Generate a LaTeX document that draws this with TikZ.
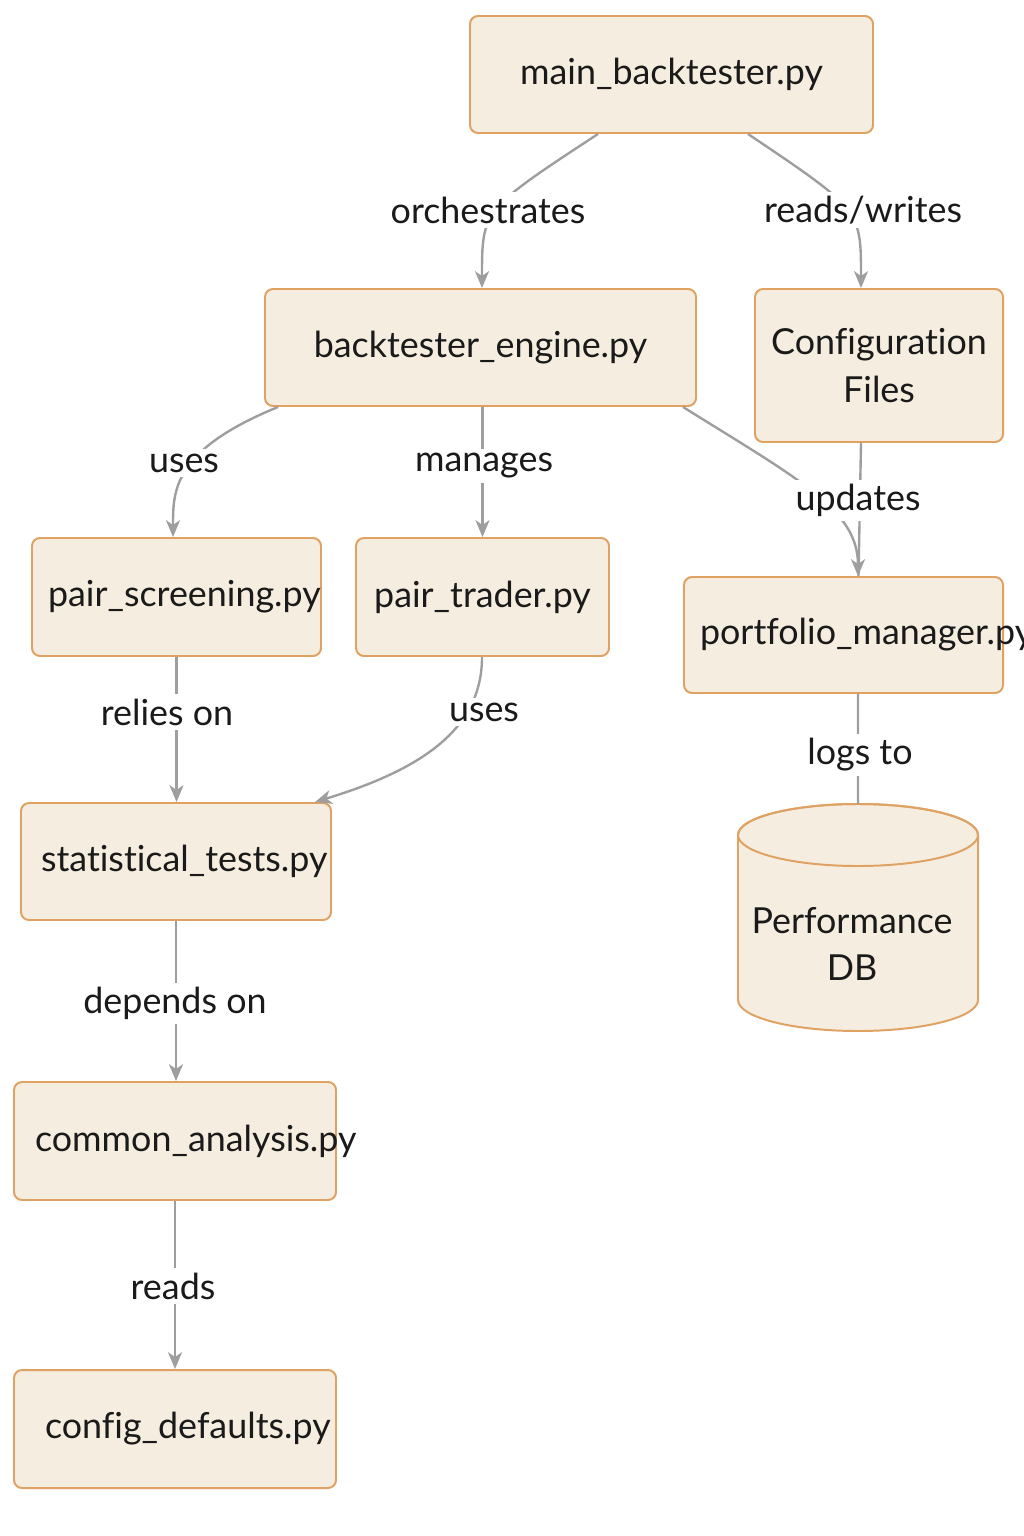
\documentclass[tikz,border=0pt]{standalone}
\usepackage{fontspec}
\setmainfont{Lato}[Ligatures=NoCommon]
\usetikzlibrary{calc,arrows.meta}
\newlength\px
\setlength\px{0.025cm}
\definecolor{boxfill}{HTML}{F5EDDF}
\definecolor{boxline}{HTML}{DFA262}
\definecolor{edgegray}{HTML}{9E9E9E}
\definecolor{txt}{HTML}{1A1A1A}
\tikzset{
  fnt/.style={font=\fontsize{25.5}{34}\selectfont, text=txt},
  box/.style={fnt, draw=boxline, fill=boxfill, line width=1.4pt, rounded corners=0.2cm,
              inner sep=0pt, align=center},
  lbl/.style={fnt, fill=white, inner sep=3pt},
  conn/.style={draw=edgegray, line width=1.7pt},
  arr/.style={conn, -{Stealth[length=12pt,width=10pt,inset=3.5pt]}},
}
\begin{document}
\begin{tikzpicture}[x=0.025cm, y=-0.025cm]
\useasboundingbox (0,0) rectangle (1024,1536);
\clip (0,0) rectangle (1024,1536);
% boxes
\node[box, minimum width=403\px, minimum height=117\px] (main) at (671.5,74.5) {main\_backtester.py};
\node[box, minimum width=431\px, minimum height=117\px] (engine) at (480.5,347.5) {backtester\_engine.py};
\node[box, minimum width=248\px, minimum height=153\px] (cfg) at (879,365.5) {Configuration\\Files};
\node[box, minimum width=289\px, minimum height=118\px] (ps) at (176.5,597) {\makebox[289\px][l]{\hspace{16\px}pair\_screening.py}};
\node[box, minimum width=253\px, minimum height=118\px] (pt) at (482.5,597) {pair\_trader.py};
\node[box, minimum width=319\px, minimum height=116\px] (pm) at (843.5,635) {\makebox[319\px][l]{\hspace{16\px}portfolio\_manager.py}};
\node[box, minimum width=310\px, minimum height=117\px] (st) at (176,861.5) {\makebox[310\px][l]{\hspace{20\px}statistical\_tests.py}};
\node[box, minimum width=322\px, minimum height=118\px] (cm) at (175,1141) {\makebox[322\px][l]{\hspace{21\px}common\_analysis.py}};
\node[box, minimum width=322\px, minimum height=118\px] (cd) at (175,1429) {\makebox[322\px][l]{\hspace{31\px}config\_defaults.py}};
% cylinder
\path[draw=boxline, fill=boxfill, line width=1.4pt]
  (738,835) -- (738,1000) arc[start angle=180, end angle=360, x radius=120, y radius=-31]
  -- (978,835) arc[start angle=0, end angle=180, x radius=120, y radius=-31] -- cycle;
\draw[boxline, line width=1.4pt] (858,835) ellipse[x radius=120, y radius=31];
\coordinate (dbtop) at (858,804);
\node[fnt, align=center] (db) at (852,944) {Performance\\DB};
% connectors
\draw[arr] ($(main.south)+(-73.5,0)$) .. controls (482,210) .. ($(engine.north)+(1.5,0)$);
\draw[arr] ($(main.south)+(76.5,0)$) .. controls (861,210) .. ($(cfg.north)+(-18,0)$);
\draw[arr] ($(engine.south)+(-202.5,0)$) .. controls (173,450) and (173,490) .. ($(ps.north)+(-3.5,0)$);
\draw[arr] (engine.south -| pt.north) -- (pt.north);
\draw[conn] ($(cfg.south)+(-18,0)$) -- ($(pm.north)+(15,0)$);
\draw[arr] ($(engine.south)+(202.5,0)$) .. controls (800,480) and (858,510) .. ($(pm.north)+(14.5,0)$);
\draw[arr] (ps.south) -- (ps.south |- st.north);
\draw[arr] ($(pt.south)+(-0.5,0)$) .. controls (482,730) and (420,770) .. ($(st.north)+(139,0)$);
\draw[arr] (st.south) -- (st.south |- cm.north);
\draw[arr] (cm.south) -- (cd.north);
\draw[conn] ($(pm.south)+(14.5,0)$) -- (dbtop);
% labels
\node[lbl] (lorch) at (488,210) {orchestrates};
\node[lbl] (lrw) at (863,210) {reads/writes};
\node[lbl] (luses1) at (184,463) {uses};
\node[lbl] (lman) at (484,466) {manages};
\node[lbl] (lupd) at (858,500) {updates};
\node[lbl] (lrel) at (167,712) {relies on};
\node[lbl] (luses2) at (484,712) {uses};
\node[lbl] (ldep) at (175,1003) {depends on};
\node[lbl] (lreads) at (173,1286) {reads};
\node[lbl] (llogs) at (860,755) {logs to};
\end{tikzpicture}
\end{document}
